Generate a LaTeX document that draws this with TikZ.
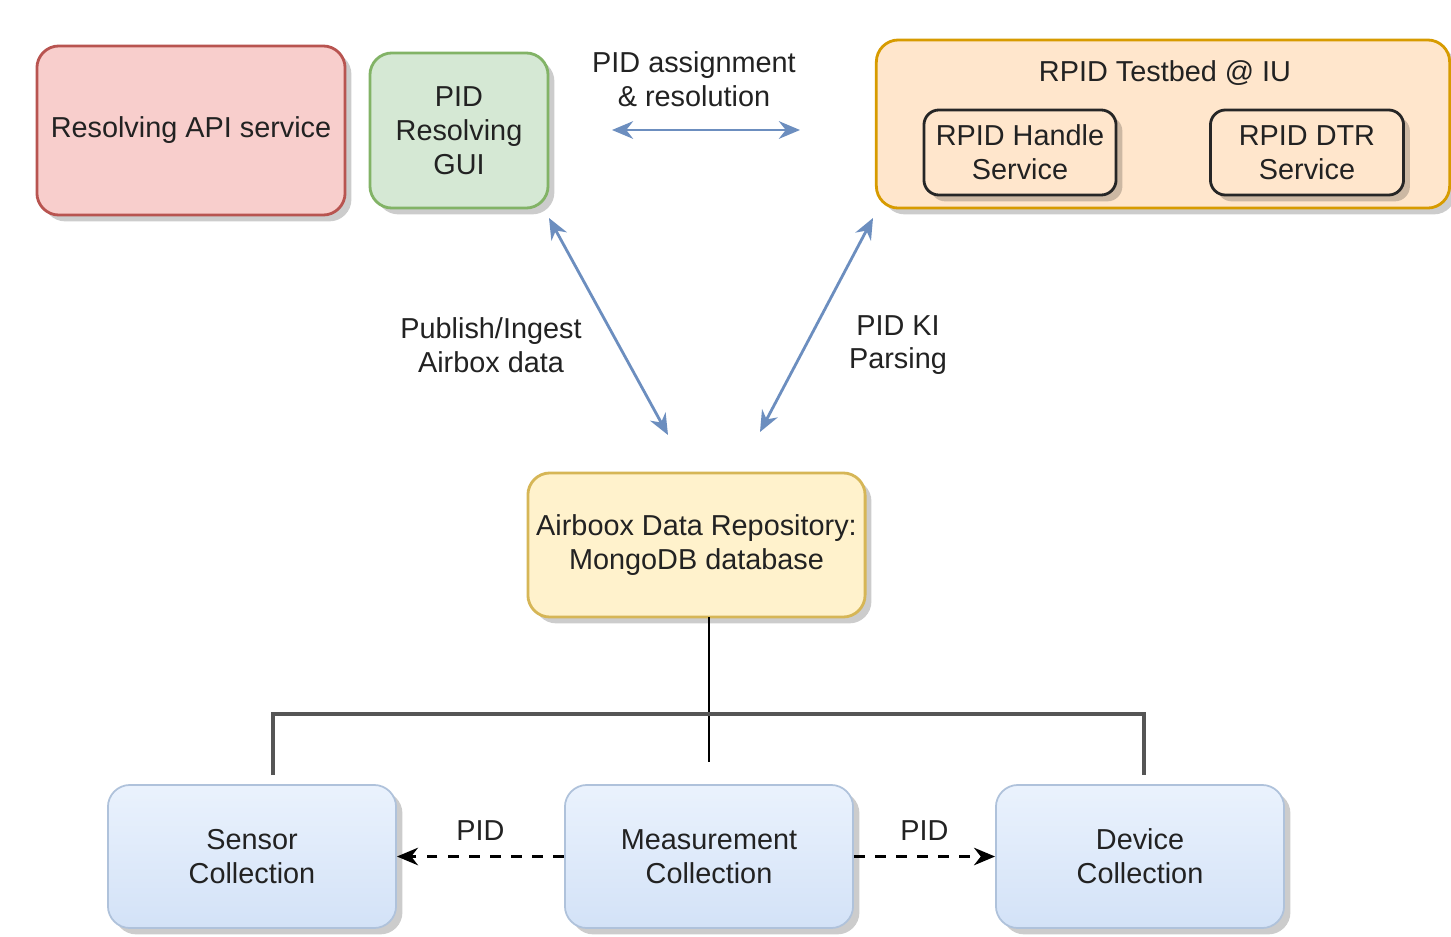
\documentclass[tikz,border=0pt]{standalone}
\usepackage{fontspec}
\setmainfont{Liberation Sans}
\usetikzlibrary{arrows.meta,shadows}
\definecolor{redfill}{HTML}{F8CECC}
\definecolor{reddraw}{HTML}{B85450}
\definecolor{greenfill}{HTML}{D5E8D4}
\definecolor{greendraw}{HTML}{82B366}
\definecolor{orangefill}{HTML}{FFE6CC}
\definecolor{orangedraw}{HTML}{D79B00}
\definecolor{yellowfill}{HTML}{FFF2CC}
\definecolor{yellowdraw}{HTML}{D6B656}
\definecolor{bluetop}{HTML}{EAF2FD}
\definecolor{bluebot}{HTML}{D3E2F7}
\definecolor{bluedraw}{HTML}{AFC2DB}
\definecolor{arrowblue}{HTML}{6C8EBF}
\definecolor{treegray}{HTML}{555555}
\definecolor{txt}{HTML}{222222}
\tikzset{
  shd/.style={drop shadow={opacity=0.2,shadow xshift=1.8pt,shadow yshift=-1.8pt,fill=black}},
  box/.style={rectangle, rounded corners=0.22cm, align=center, text=txt,
    font=\fontsize{8.2pt}{9.6pt}\selectfont, inner sep=0pt, line width=0.8pt},
  redbox/.style={box, shd, fill=redfill, draw=reddraw},
  greenbox/.style={box, shd, fill=greenfill, draw=greendraw},
  orangebox/.style={box, shd, fill=orangefill, draw=orangedraw},
  innerbox/.style={box, shd, fill=orangefill, draw=black!85, rounded corners=0.15cm},
  yellowbox/.style={box, shd, fill=yellowfill, draw=yellowdraw},
  bluebox/.style={box, shd, top color=bluetop, bottom color=bluebot, draw=bluedraw, line width=0.5pt},
  lbl/.style={align=center, text=txt, font=\fontsize{8.2pt}{9.6pt}\selectfont},
  barrow/.style={{Stealth[length=6pt,width=5pt]}-{Stealth[length=6pt,width=5pt]}, draw=arrowblue, line width=0.8pt},
  tree/.style={draw=treegray, line width=1.1pt},
  dasharrow/.style={-{Stealth[length=6pt,width=5pt]}, draw=black, dashed, line width=0.7pt},
}
\begin{document}
\begin{tikzpicture}[x=0.01cm,y=-0.01cm]
\useasboundingbox (0,0) rectangle (1451,936);
\fill[white] (0,0) rectangle (1451,936);

% top row
\node[redbox, minimum width=3.08cm, minimum height=1.69cm] (api) at (191,130.5) {Resolving API service};
\node[greenbox, minimum width=1.78cm, minimum height=1.55cm] (gui) at (459,130.5) {PID\\Resolving\\GUI};
\node[orangebox, minimum width=5.73cm, minimum height=1.68cm] (testbed) at (1163,124) {};
\node[lbl] (tbtitle) at (1165,73) {RPID Testbed @ IU};
\node[innerbox, minimum width=1.92cm, minimum height=0.85cm] (handle) at (1020,152.5) {RPID Handle\\Service};
\node[innerbox, minimum width=1.93cm, minimum height=0.85cm] (dtr) at (1307,152.5) {RPID DTR\\Service};

\node[lbl] (assign) at (694,79) {PID assignment\\\& resolution};
\coordinate (aL) at (612,130);
\coordinate (aR) at (800,130);
\draw[barrow] (aL) -- (aR);

% diagonal arrows
\coordinate (g1) at (549,218);
\coordinate (g2) at (668,435);
\coordinate (t1) at (873,218);
\coordinate (t2) at (760,432);
\draw[barrow] (g1) -- (g2);
\draw[barrow] (t1) -- (t2);
\node[lbl] (publish) at (491,345) {Publish/Ingest\\Airbox data};
\node[lbl] (kiparse) at (898,345) {PID KI\\Parsing};

% repository
\node[yellowbox, minimum width=3.37cm, minimum height=1.44cm] (repo) at (696.5,545) {Airboox Data Repository:\\MongoDB database};

% collections
\node[bluebox, minimum width=2.88cm, minimum height=1.43cm] (sensor) at (252,856.5) {Sensor\\Collection};
\node[bluebox, minimum width=2.88cm, minimum height=1.43cm] (meas) at (709,856.5) {Measurement\\Collection};
\node[bluebox, minimum width=2.88cm, minimum height=1.43cm] (device) at (1140,856.5) {Device\\Collection};

% tree
\coordinate (rb) at (709,617);
\coordinate (mt) at (709,762);
\coordinate (hL) at (273,714);
\coordinate (hR) at (1144,714);
\coordinate (sL) at (273,775);
\coordinate (sR) at (1144,775);
\draw[draw=black, line width=0.8pt] (rb) -- (mt);
\draw[tree] (sL) -- (hL) -- (hR) -- (sR);

% dashed PID arrows
\draw[dasharrow] (meas.west) -- (sensor.east) node[midway, lbl, above=1pt] (pidL) {PID};
\draw[dasharrow] (meas.east) -- (device.west) node[midway, lbl, above=1pt] (pidR) {PID};
\end{tikzpicture}
\end{document}
